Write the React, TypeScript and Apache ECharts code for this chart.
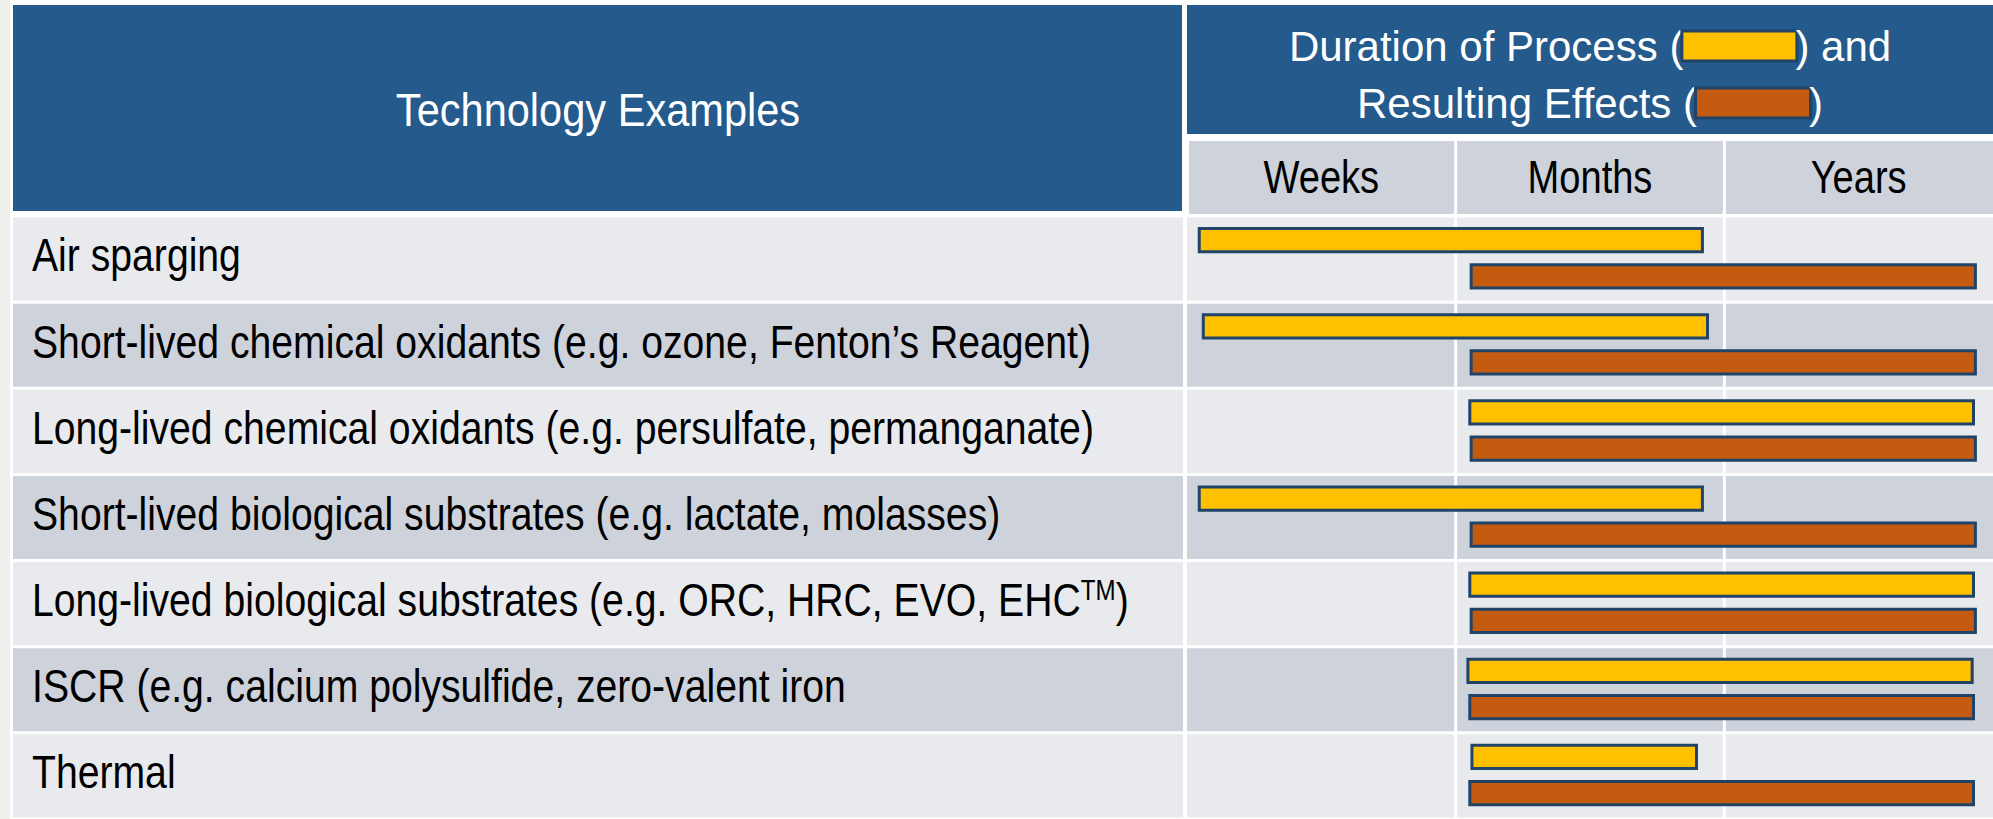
import React, { useEffect, useRef } from 'react';
import * as echarts from 'echarts';

// ---------- data ----------
const technologies: string[] = [
  'Air sparging',
  'Short-lived chemical oxidants (e.g. ozone, Fenton’s Reagent)',
  'Long-lived chemical oxidants (e.g. persulfate, permanganate)',
  'Short-lived biological substrates (e.g. lactate, molasses)',
  'Long-lived biological substrates (e.g. ORC, HRC, EVO, EHC™)',
  'ISCR (e.g. calcium polysulfide, zero-valent iron',
  'Thermal',
];
const timeColumns: string[] = ['Weeks', 'Months', 'Years'];
// positions on the time scale: 0 = start of Weeks, 1 = start of Months, 2 = start of Years, 3 = end
const processStart: number[] = [0.04, 0.055, 1.047, 0.04, 1.047, 1.04, 1.055];
const processEnd: number[] = [1.924, 1.943, 2.933, 1.924, 2.933, 2.928, 1.902];
const effectStart: number[] = [1.052, 1.052, 1.052, 1.052, 1.052, 1.047, 1.047];
const effectEnd: number[] = [2.94, 2.94, 2.94, 2.94, 2.94, 2.933, 2.933];

const headerLeft = 'Technology Examples';
const headerRightLine1 = 'Duration of Process (';
const headerRightLine1End = ') and';
const headerRightLine2 = 'Resulting Effects (';
const headerRightLine2End = ')';

// ---------- styles ----------
const W = 1993;
const H = 819;
const GRID_LEFT = 1187;
const GRID_TOP = 216;
const BLUE = '#245A8C';
const LIGHT = '#E8EAEE';
const DARK = '#CDD2DB';
const YELLOW = '#FFC000';
const ORANGE = '#C55A11';
const BORDER = '#1F4468';
const FONT = "'Liberation Sans', Arial, sans-serif";
// the reference uses a condensed face; emulate with a horizontal squeeze
const LABEL_SQUEEZE = 0.833;
const COL_SQUEEZE = 0.81;
const TITLE_SQUEEZE = 0.894;

export default function App() {
  const ref = useRef<HTMLDivElement>(null);

  useEffect(() => {
    if (!ref.current) return;
    const chart = echarts.init(ref.current, undefined, { renderer: 'svg' });
    const colW = (W - GRID_LEFT) / timeColumns.length;

    const rowBg = (params: any, api: any) => {
      const i = api.value(1);
      const c = api.coord([0, i]);
      const band = api.size([0, 1])[1];
      const top = c[1] - band / 2 + 1.5;
      const h = band - 3;
      const fill = i % 2 === 0 ? LIGHT : DARK;
      const children: any[] = [
        { type: 'rect', shape: { x: 13, y: top, width: GRID_LEFT - 4 - 13, height: h }, style: { fill } },
      ];
      for (let j = 0; j < timeColumns.length; j++) {
        const a = api.coord([j, i])[0];
        const b = api.coord([j + 1, i])[0];
        const l = j === 0 ? a : a + 1.5;
        const r = j === timeColumns.length - 1 ? b : b - 1.5;
        children.push({ type: 'rect', shape: { x: l, y: top, width: r - l, height: h }, style: { fill } });
      }
      children.push({
        type: 'text',
        x: 32,
        y: c[1] - 4,
        scaleX: LABEL_SQUEEZE,
        style: {
          text: technologies[i].replace('™', '{sup|TM}'),
          fill: '#000000',
          fontSize: 47,
          fontFamily: FONT,
          lineHeight: 47,
          align: 'left',
          verticalAlign: 'middle',
          rich: {
            sup: { fontSize: 29, fontFamily: FONT, fill: '#000000', verticalAlign: 'top' },
          },
        },
      });
      return { type: 'group', children };
    };

    const barItem = (offset: number) => (params: any, api: any) => {
      const cat = api.value(0);
      const p0 = api.coord([api.value(1), cat]);
      const p1 = api.coord([api.value(2), cat]);
      const band = api.size([0, 1])[1];
      const h = band * 0.27;
      const cy = p0[1] + band * offset;
      return {
        type: 'rect',
        shape: { x: p0[0] + 1.5, y: cy - h / 2, width: p1[0] - p0[0] - 3, height: h },
        style: { fill: api.visual('color'), stroke: BORDER, lineWidth: 3 },
      };
    };

    const swatch = (color: string) => ({
      width: 112,
      height: 27,
      backgroundColor: color,
      borderColor: BORDER,
      borderWidth: 3,
      fontSize: 42,
      fontFamily: FONT,
    });

    const graphic: any[] = [
      { type: 'rect', shape: { x: 0, y: 0, width: 10, height: H }, style: { fill: '#EFF0EB' }, silent: true },
      { type: 'rect', shape: { x: 13, y: 5, width: 1182 - 13, height: 211 - 5 }, style: { fill: BLUE }, silent: true },
      { type: 'rect', shape: { x: GRID_LEFT, y: 5, width: W - GRID_LEFT, height: 134 - 5 }, style: { fill: BLUE }, silent: true },
      {
        type: 'text',
        x: 598,
        y: 110,
        scaleX: TITLE_SQUEEZE,
        silent: true,
        style: {
          text: headerLeft,
          fill: '#FFFFFF',
          fontSize: 46.5,
          fontFamily: FONT,
          align: 'center',
          verticalAlign: 'middle',
        },
      },
      {
        type: 'text',
        x: GRID_LEFT + (W - GRID_LEFT) / 2,
        y: 74.5,
        silent: true,
        style: {
          text: `${headerRightLine1}{p| }${headerRightLine1End}\n${headerRightLine2}{e| }${headerRightLine2End}`,
          fill: '#FFFFFF',
          fontSize: 42,
          fontFamily: FONT,
          lineHeight: 57,
          align: 'center',
          verticalAlign: 'middle',
          rich: { p: swatch(YELLOW), e: swatch(ORANGE) },
        },
      },
    ];
    for (let j = 0; j < timeColumns.length; j++) {
      const a = GRID_LEFT + j * colW;
      const b = a + colW;
      const l = j === 0 ? a + 2 : a + 1.5;
      const r = j === timeColumns.length - 1 ? b : b - 1.5;
      graphic.push({
        type: 'rect',
        shape: { x: l, y: 141, width: r - l, height: 214 - 141 },
        style: { fill: DARK },
        silent: true,
      });
      graphic.push({
        type: 'text',
        x: (a + b) / 2,
        y: 177,
        scaleX: COL_SQUEEZE,
        silent: true,
        style: {
          text: timeColumns[j],
          fill: '#000000',
          fontSize: 47,
          fontFamily: FONT,
          align: 'center',
          verticalAlign: 'middle',
        },
      });
    }

    const option: any = {
      animation: false,
      backgroundColor: '#FFFFFF',
      graphic,
      grid: {
        left: GRID_LEFT,
        right: 0,
        top: GRID_TOP,
        bottom: 0,
        containLabel: false,
        outerBoundsMode: 'none',
      },
      xAxis: { type: 'value', min: 0, max: 3, show: false },
      yAxis: {
        type: 'category',
        inverse: true,
        data: technologies,
        show: false,
      },
      series: [
        {
          type: 'custom',
          name: 'rows',
          silent: true,
          clip: false,
          z: 1,
          encode: { x: 0, y: 1 },
          data: technologies.map((_, i) => [0, i]),
          renderItem: rowBg,
        },
        {
          type: 'custom',
          name: 'Duration of Process',
          z: 3,
          itemStyle: { color: YELLOW },
          encode: { x: [1, 2], y: 0 },
          data: technologies.map((_, i) => [i, processStart[i], processEnd[i]]),
          renderItem: barItem(-0.22),
        },
        {
          type: 'custom',
          name: 'Resulting Effects',
          z: 3,
          itemStyle: { color: ORANGE },
          encode: { x: [1, 2], y: 0 },
          data: technologies.map((_, i) => [i, effectStart[i], effectEnd[i]]),
          renderItem: barItem(0.2),
        },
      ],
    };
    chart.setOption(option);
    return () => chart.dispose();
  }, []);

  return <div ref={ref} style={{ position: 'fixed', left: 0, top: 0, width: W, height: H }} />;
}
